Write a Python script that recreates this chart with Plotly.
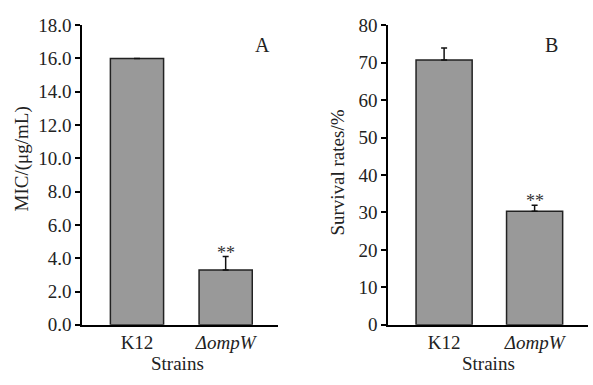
import plotly.graph_objects as go

strains = ["K12", "ΔompW"]
strain_labels = ["K12", "<i>ΔompW</i>"]
mic_values = [16.0, 3.3]
mic_errors = [0.0, 0.8]
survival_values = [70.7, 30.3]
survival_errors = [3.2, 1.6]
mic_ticks = [0, 2, 4, 6, 8, 10, 12, 14, 16, 18]
survival_ticks = [0, 10, 20, 30, 40, 50, 60, 70, 80]

FONT = "Liberation Serif, Times New Roman, serif"
W, H = 593, 385
BAR = "#999999"
EDGE = "#222222"
FS = 19

fig = go.Figure()
fig.add_trace(go.Bar(
    x=strains, y=mic_values, width=0.6,
    marker=dict(color=BAR, line=dict(color=EDGE, width=1.5)),
    error_y=dict(type="data", array=mic_errors, arrayminus=[0, 0],
                 color="#111111", thickness=1.5, width=3, visible=True),
    xaxis="x", yaxis="y", showlegend=False))
fig.add_trace(go.Bar(
    x=strains, y=survival_values, width=0.62,
    marker=dict(color=BAR, line=dict(color=EDGE, width=1.5)),
    error_y=dict(type="data", array=survival_errors, arrayminus=[0, 0],
                 color="#111111", thickness=1.5, width=3, visible=True),
    xaxis="x2", yaxis="y2", showlegend=False))

common_x = dict(type="category", range=[-0.62, 1.59], showline=True, linecolor="black",
                linewidth=1.5, ticks="", tickmode="array", tickvals=strains,
                ticktext=strain_labels, tickfont=dict(family=FONT, size=FS, color="#222"),
                showgrid=False, zeroline=False, fixedrange=True)
common_y = dict(showline=True, linecolor="black", linewidth=1.5, ticks="outside",
                ticklen=5, tickwidth=1.5, tickcolor="black",
                tickfont=dict(family=FONT, size=FS, color="#222"),
                showgrid=False, zeroline=False, domain=[1 - 333 / H, 1 - 16 / H])

fig.update_layout(
    width=W, height=H, margin=dict(l=0, r=0, t=0, b=0),
    plot_bgcolor="white", paper_bgcolor="white",
    xaxis=dict(common_x, domain=[82 / W, 278 / W], anchor="y"),
    yaxis=dict(common_y, range=[0, 18], tickvals=mic_ticks, tickformat=".1f", anchor="x"),
    xaxis2=dict(common_x, domain=[388 / W, 588 / W], anchor="y2"),
    yaxis2=dict(common_y, range=[0, 80], tickvals=survival_ticks, anchor="x2"),
    bargap=0.4,
)

def note(text, x, y, size=FS, angle=0):
    return dict(text=text, x=x / W, y=1 - y / H, xref="paper", yref="paper",
                xanchor="center", yanchor="middle", textangle=angle, showarrow=False,
                font=dict(family=FONT, size=size, color="#222"))

ann = [
    note("MIC/(μg/mL)", 22, 158, angle=-90),
    note("Survival rates/%", 338, 172, angle=-90),
    note("Strains", 177, 374),
    note("Strains", 488, 374),
    note("A", 262, 37, size=20),
    note("B", 551, 37, size=20),
]
ann.append(dict(text="**", x=strains[1], y=mic_values[1] + mic_errors[1], xref="x", yref="y",
                xanchor="center", yanchor="bottom", yshift=-8, showarrow=False,
                font=dict(family=FONT, size=18, color="#333")))
ann.append(dict(text="**", x=strains[1], y=survival_values[1] + survival_errors[1], xref="x2", yref="y2",
                xanchor="center", yanchor="bottom", yshift=-8, showarrow=False,
                font=dict(family=FONT, size=18, color="#333")))
fig.update_layout(annotations=ann)

fig.write_html("out.html")
